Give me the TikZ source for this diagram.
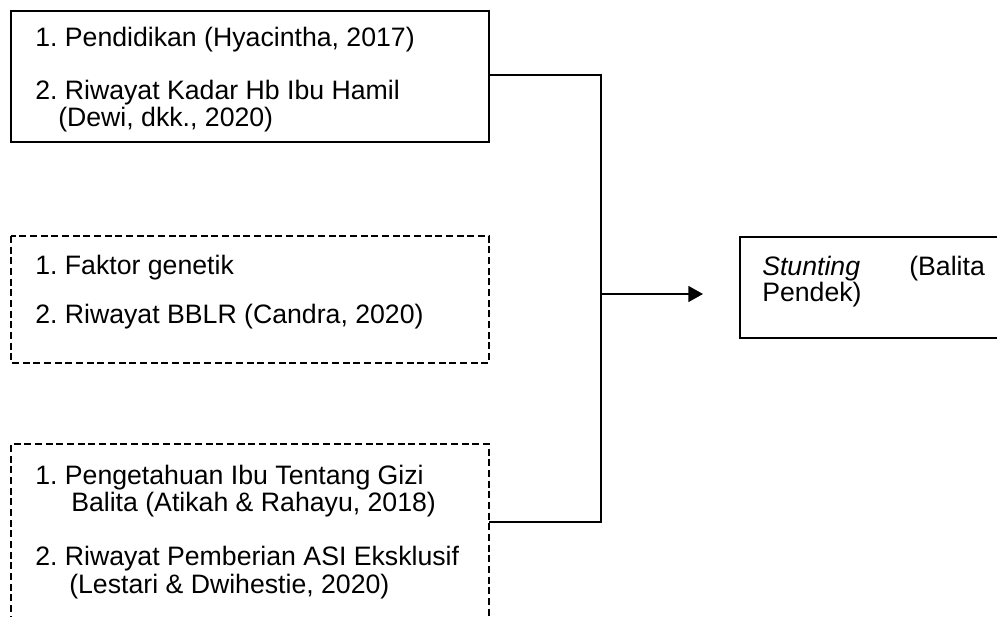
\documentclass[tikz,border=0pt]{standalone}
\usepackage{fontspec}
\setmainfont{Liberation Sans}
\usetikzlibrary{arrows.meta}
\frenchspacing
\begin{document}
\begin{tikzpicture}[x=0.75pt,y=-0.75pt,
  solidbox/.style={draw=black,line width=1.1pt,rectangle,anchor=north west,inner sep=0pt,outer sep=0pt},
  dashbox/.style={draw=black,line width=1.1pt,dash pattern=on 5.2pt off 2.8pt},
  txt/.style={anchor=base west,inner sep=0pt,font=\fontsize{20}{24}\selectfont},
  conn/.style={draw=black,line width=1.1pt},
  arr/.style={conn,-{Triangle[length=11pt,width=12pt]}}]
\useasboundingbox (0,0) rectangle (997,617);
\clip (0,0) rectangle (997,617);
% box 1
\node[solidbox,minimum width=478*0.75pt,minimum height=131*0.75pt] (box1) at (11,11) {};
\node[txt] (t11) at (35,47) {1. Pendidikan (Hyacintha, 2017)};
\node[txt] (t12) at (35,99) {2. Riwayat Kadar Hb Ibu Hamil};
\node[txt] (t13) at (58,127) {(Dewi, dkk., 2020)};
% box 2
\node[solidbox,draw=none,minimum width=478*0.75pt,minimum height=127*0.75pt] (box2) at (11,236) {};
\draw[dashbox] (box2.north west) rectangle (box2.south east);
\node[txt] (t21) at (35,274) {1. Faktor genetik};
\node[txt] (t22) at (35,323) {2. Riwayat BBLR (Candra, 2020)};
% box 3 (continues below the picture)
\node[solidbox,draw=none,minimum width=478*0.75pt,minimum height=200*0.75pt] (box3) at (11,444) {};
\draw[dashbox] (box3.south west) -- (box3.north west) -- (box3.north east) -- (box3.south east);
\node[txt] (t31) at (35,484) {1. Pengetahuan Ibu Tentang Gizi};
\node[txt] (t32) at (71,511) {Balita (Atikah \& Rahayu, 2018)};
\node[txt] (t33) at (35,565) {2. Riwayat Pemberian ASI Eksklusif};
\node[txt] (t34) at (69,593) {(Lestari \& Dwihestie, 2020)};
% right box (continues past the right edge)
\node[solidbox,minimum width=280*0.75pt,minimum height=101*0.75pt] (box4) at (740,237) {};
\node[txt] (t41) at (762,275) {\itshape Stunting};
\node[txt] (t42) at (909,275) {(Balita};
\node[txt] (t43) at (762,301) {Pendek)};
% connectors
\coordinate (j1) at (601,75);
\coordinate (j) at (601,294);
\coordinate (b3) at (489,522);
\coordinate (tip) at (703,294);
\draw[conn] (box1.east |- j1) -- (j1) -- (j1 |- b3) -- (b3);
\draw[arr] (j) -- (tip);
\end{tikzpicture}
\end{document}
